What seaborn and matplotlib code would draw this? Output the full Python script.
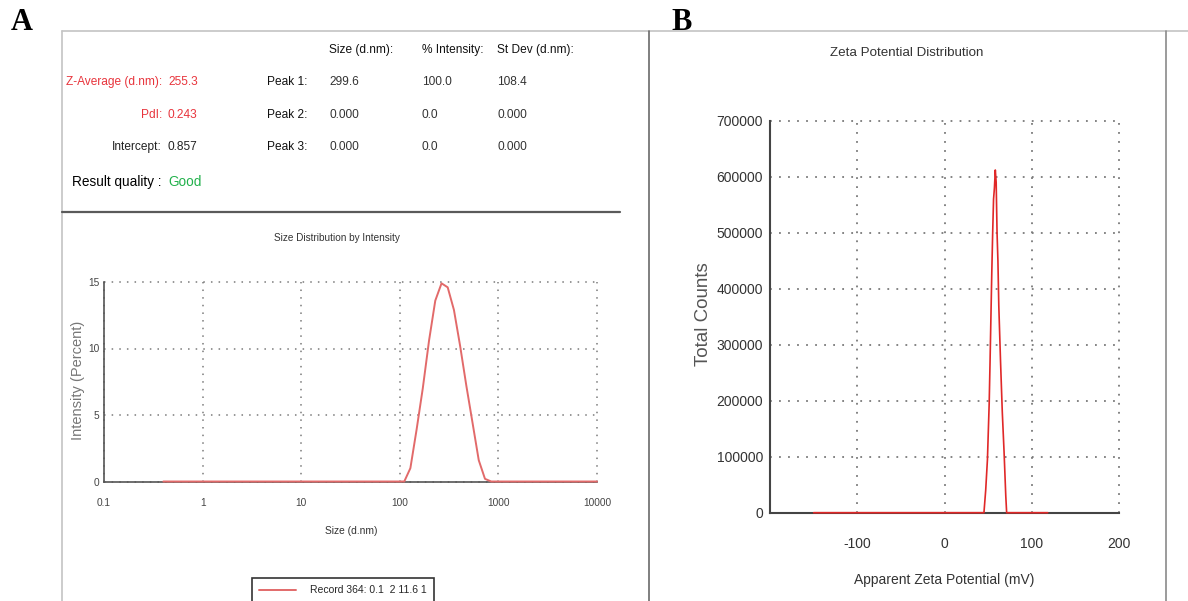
"""
DLS size distribution (A) and zeta potential distribution (B) report panels.
"""

import matplotlib
matplotlib.use('Agg')
import matplotlib.pyplot as plt
from matplotlib import font_manager
from matplotlib.lines import Line2D
from matplotlib.ticker import FixedLocator, LogLocator, NullFormatter, FuncFormatter
import seaborn as sns


# Panel A: size distribution by intensity
size_nm = [0.4, 1, 10, 100, 111, 128, 148, 171, 198, 229, 265, 306, 354,
           409, 473, 547, 632, 731, 845, 1000, 10000]
intensity_pct = [0, 0, 0, 0, 0, 1.0, 3.9, 7.0, 10.6, 13.6, 14.9, 14.6, 12.9,
                 10.2, 7.2, 4.4, 1.6, 0.2, 0, 0, 0]
size_ticks = [0.1, 1, 10, 100, 1000, 10000]
size_tick_labels = ['0.1', '1', '10', '100', '1000', '10000']
intensity_ticks = [0, 5, 10, 15]
record_label = 'Record 364: 0.1  2 11.6 1'

# Panel B: zeta potential distribution
zeta_mv = [-150, -100, -50, 0, 45, 47, 49, 51, 52, 53, 54, 55, 56, 57, 58,
           59, 60, 61, 62, 64, 66, 68, 70, 71, 80, 100, 118]
zeta_counts = [0, 0, 0, 0, 0, 40000, 95000, 195000, 270000, 350000, 430000,
               500000, 560000, 580000, 612000, 590000, 500000, 450000, 370000,
               270000, 180000, 110000, 30000, 0, 0, 0, 0]
zeta_ticks = [-100, 0, 100, 200]
count_ticks = [0, 100000, 200000, 300000, 400000, 500000, 600000, 700000]

# Summary table (panel A header)
summary_labels = ['Z-Average (d.nm):', 'PdI:', 'Intercept:']
summary_values = ['255.3', '0.243', '0.857']
quality_label = 'Result quality :'
quality_value = 'Good'
peak_labels = ['Peak 1:', 'Peak 2:', 'Peak 3:']
peak_headers = ['Size (d.nm):', '% Intensity:', 'St Dev (d.nm):']
peak_size = ['299.6', '0.000', '0.000']
peak_intensity = ['100.0', '0.0', '0.0']
peak_stdev = ['108.4', '0.000', '0.000']

W, H = 1188, 601
RED_TXT = '#e8343c'
GREEN_TXT = '#22b14c'
LINE_A = '#e26a6a'
LINE_B = '#e02828'
GRID_COLOR = '#7a7a7a'


def pick_font(names):
    for name in names:
        try:
            font_manager.findfont(font_manager.FontProperties(family=name),
                                  fallback_to_default=False)
            return name
        except ValueError:
            pass
    return 'DejaVu Sans'


def fx(x):
    return x / W


def fy(y):
    return 1 - y / H


sns.set_style('white')
NARROW = pick_font(['Liberation Sans Narrow', 'Arial Narrow', 'Liberation Sans'])
REGULAR = pick_font(['Liberation Sans', 'Arial'])
SERIF = pick_font(['Liberation Serif', 'Times New Roman'])
plt.rcParams['font.family'] = [NARROW, 'DejaVu Sans']
plt.rcParams['axes.unicode_minus'] = False

fig = plt.figure(figsize=(W / 100, H / 100), dpi=100)
fig.patch.set_facecolor('white')

# Frames
fig.add_artist(Line2D([fx(62), fx(1188)], [fy(31), fy(31)], color='#c4c4c4', lw=1.2))
fig.add_artist(Line2D([fx(62), fx(62)], [fy(31), fy(601)], color='#c4c4c4', lw=1.2))
fig.add_artist(Line2D([fx(62), fx(620)], [fy(212), fy(212)], color='#5a5a5a', lw=1.6))
fig.add_artist(Line2D([fx(648.5), fx(648.5)], [fy(31), fy(601)], color='#6a6a6a', lw=1.2))
fig.add_artist(Line2D([fx(1166), fx(1166)], [fy(31), fy(601)], color='#8a8a8a', lw=1.2))

fig.text(fx(22), fy(23), 'A', family=SERIF, fontweight='bold', fontsize=22,
         ha='center', va='center', color='black')
fig.text(fx(682), fy(22), 'B', family=SERIF, fontweight='bold', fontsize=22,
         ha='center', va='center', color='black')

# Summary table
TXT = dict(family=NARROW, fontsize=8.6, va='center')
row_y = [82, 115, 147]
for i, (lab, val) in enumerate(zip(summary_labels, summary_values)):
    c = RED_TXT if i < 2 else '#222222'
    fig.text(fx(162), fy(row_y[i]), lab, ha='right', color=c, **TXT)
    fig.text(fx(168), fy(row_y[i]), val, ha='left', color=c, **TXT)
fig.text(fx(161), fy(182), quality_label, ha='right', color='#000000',
         family=NARROW, fontsize=9.8, va='center')
fig.text(fx(168), fy(182), quality_value, ha='left', color=GREEN_TXT,
         family=NARROW, fontsize=9.8, va='center')

col_x = [329, 422, 497]
for x, head in zip(col_x, peak_headers):
    fig.text(fx(x), fy(50), head, ha='left', color='#111111', **TXT)
for i, lab in enumerate(peak_labels):
    fig.text(fx(307), fy(row_y[i]), lab, ha='right', color='#111111', **TXT)
    for x, col in zip(col_x, [peak_size, peak_intensity, peak_stdev]):
        fig.text(fx(x), fy(row_y[i]), col[i], ha='left', color='#333333', **TXT)

# Panel A plot
ax_a = fig.add_axes([fx(104), fy(481.5), 493 / W, 199.5 / H])
ax_a.set_xscale('log')
sns.lineplot(x=size_nm, y=intensity_pct, ax=ax_a, color=LINE_A, lw=1.4,
             label=record_label, zorder=3, clip_on=False)
if ax_a.get_legend() is not None:
    ax_a.get_legend().remove()
ax_a.set_xlim(0.1, 10000)
ax_a.set_ylim(0, 15)
ax_a.xaxis.set_major_locator(FixedLocator(size_ticks))
ax_a.set_xticklabels(size_tick_labels)
ax_a.xaxis.set_minor_locator(LogLocator(base=10, subs=range(2, 10), numticks=20))
ax_a.xaxis.set_minor_formatter(NullFormatter())
ax_a.yaxis.set_major_locator(FixedLocator(intensity_ticks))
ax_a.yaxis.set_minor_locator(FixedLocator([2.5, 7.5, 12.5]))
ax_a.tick_params(which='major', direction='inout', length=4, width=1.2,
                 color='#444444', labelsize=7.3, labelcolor='#444444')
ax_a.tick_params(which='minor', direction='inout', length=2.5, width=2,
                 color='#444444')
ax_a.tick_params(axis='x', which='major', pad=10)
ax_a.tick_params(axis='y', which='major', pad=1.5)
ax_a.grid(True, which='major', color=GRID_COLOR, linestyle=(0, (1, 4)), lw=1.1)
for gl in ax_a.get_xgridlines() + ax_a.get_ygridlines():
    gl.set_clip_on(False)
for side in ['top', 'right']:
    ax_a.spines[side].set_visible(False)
for side in ['left', 'bottom']:
    ax_a.spines[side].set_color('#555555')
    ax_a.spines[side].set_linewidth(1.2)
ax_a.set_xlabel('')
ax_a.set_ylabel('')

fig.text(fx(337), fy(238), 'Size Distribution by Intensity', family=NARROW,
         fontsize=7.2, ha='center', va='center', color='#333333')
fig.text(fx(351), fy(531), 'Size (d.nm)', family=NARROW, fontsize=7.4,
         ha='center', va='center', color='#333333')
fig.text(fx(78), fy(380), 'Intensity (Percent)', family=REGULAR, fontsize=10.5,
         ha='center', va='center', rotation=90, color='#777777')

leg = fig.legend(handles=ax_a.get_lines()[:1], labels=[record_label],
                 loc='upper left', bbox_to_anchor=(fx(252), fy(578)),
                 frameon=True, fancybox=False, framealpha=1, borderpad=0.7,
                 borderaxespad=0, handlelength=3.5, handletextpad=1.35,
                 prop={'family': NARROW, 'size': 7.5})
leg.get_frame().set_edgecolor('#333333')
leg.get_frame().set_linewidth(1.2)

# Panel B plot
ax_b = fig.add_axes([fx(770), fy(512.7), 349.3 / W, 392 / H])
sns.lineplot(x=zeta_mv, y=zeta_counts, ax=ax_b, color=LINE_B, lw=1.2,
             zorder=3, clip_on=False)
ax_b.set_xlim(-200, 200)
ax_b.set_ylim(0, 700000)
ax_b.xaxis.set_major_locator(FixedLocator(zeta_ticks))
ax_b.xaxis.set_minor_locator(FixedLocator([-150, -50, 50, 150]))
ax_b.yaxis.set_major_locator(FixedLocator(count_ticks))
ax_b.yaxis.set_minor_locator(FixedLocator([v + 50000 for v in count_ticks[:-1]]))
ax_b.yaxis.set_major_formatter(FuncFormatter(lambda v, _: f'{int(v)}'))
ax_b.tick_params(axis='x', which='both', direction='inout', length=8.5, width=1.4,
                 color='#333333', pad=13)
ax_b.tick_params(axis='y', which='both', direction='inout', length=5, width=1.4,
                 color='#333333', pad=2.5)
ax_b.tick_params(which='major', labelsize=10, labelcolor='#333333')
ax_b.grid(True, which='major', color=GRID_COLOR, linestyle=(0, (1, 4)), lw=1.3)
for gl in ax_b.get_xgridlines() + ax_b.get_ygridlines():
    gl.set_clip_on(False)
for side in ['top', 'right']:
    ax_b.spines[side].set_visible(False)
for side in ['left', 'bottom']:
    ax_b.spines[side].set_color('#444444')
    ax_b.spines[side].set_linewidth(1.5)
ax_b.set_xlabel('')
ax_b.set_ylabel('')

fig.text(fx(906.6), fy(52.7), 'Zeta Potential Distribution', family=NARROW,
         fontsize=9.6, ha='center', va='center', color='#333333')
fig.text(fx(944.6), fy(580), 'Apparent Zeta Potential (mV)', family=NARROW,
         fontsize=10, ha='center', va='center', color='#333333')
fig.text(fx(703), fy(314), 'Total Counts', family=REGULAR, fontsize=13.5,
         ha='center', va='center', rotation=90, color='#555555')

fig.savefig('out.png', dpi=100, facecolor='white')
plt.close(fig)
